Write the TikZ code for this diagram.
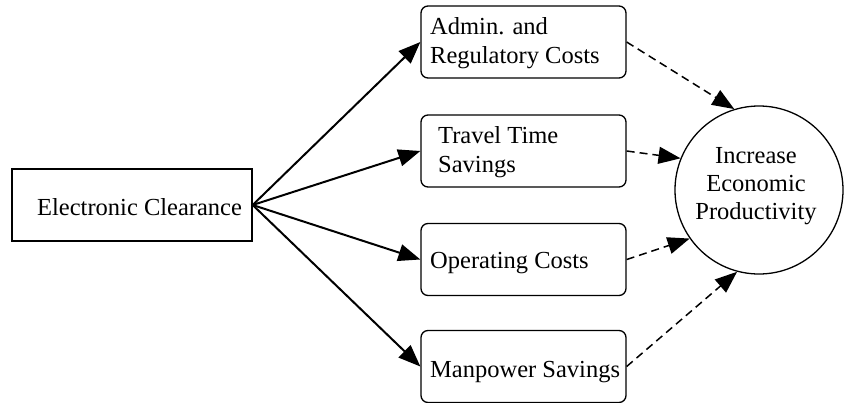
\documentclass[tikz,border=0pt]{standalone}
\usepackage{fontspec}
\setmainfont{Liberation Serif}
\usetikzlibrary{arrows.meta}
\begin{document}
\begin{tikzpicture}[x=1pt,y=-1pt,
  box/.style={draw,line width=1.3pt,rounded corners=7pt,minimum width=205pt,minimum height=72pt,inner sep=0pt},
  sqbox/.style={draw,line width=1.3pt,minimum width=240pt,minimum height=72pt,inner sep=0pt},
  lbl/.style={anchor=base west,inner sep=0pt,font=\fontsize{24.5}{28.5}\selectfont},
  clbl/.style={anchor=base,inner sep=0pt,align=center,font=\fontsize{24.5}{28}\selectfont},
  solidarr/.style={line width=2pt,-{Triangle[length=22pt,width=17pt]}},
  dasharr/.style={line width=1.5pt,dash pattern=on 8pt off 5pt,-{Triangle[length=22pt,width=17pt]}}]
\useasboundingbox (0,0) rectangle (844,402);
\node[sqbox] (ec) at (132,205) {};
\node[lbl] (ect) at (37,215) {Electronic Clearance};
\node[box] (adm) at (523.5,42) {};
\node[lbl,align=left] (admt) at (430,63) {Admin. and\\Regulatory Costs};
\node[box] (trv) at (523.5,151) {};
\node[lbl,align=left] (trvt) at (438,172) {Travel Time\\Savings};
\node[box] (opc) at (523.5,259.5) {};
\node[lbl] (opct) at (430,268) {Operating Costs};
\node[box] (man) at (523.5,366.5) {};
\node[lbl] (mant) at (430,377) {Manpower Savings};
\node[draw,circle,line width=1.3pt,minimum size=168pt,inner sep=0pt] (iep) at (759,190) {};
\node[clbl] (iept) at (756,219) {Increase\\Economic\\Productivity};
\draw[solidarr] (ec.east) -- (adm.west);
\draw[solidarr] (ec.east) -- (trv.west);
\draw[solidarr] (ec.east) -- (opc.west);
\draw[solidarr] (ec.east) -- (man.west);
\draw[dasharr] (adm.east) -- (iep.107);
\draw[dasharr] (trv.east) -- (iep.158);
\draw[dasharr] (opc.east) -- (iep.215);
\draw[dasharr] (man.east) -- (iep.255);
\end{tikzpicture}
\end{document}
